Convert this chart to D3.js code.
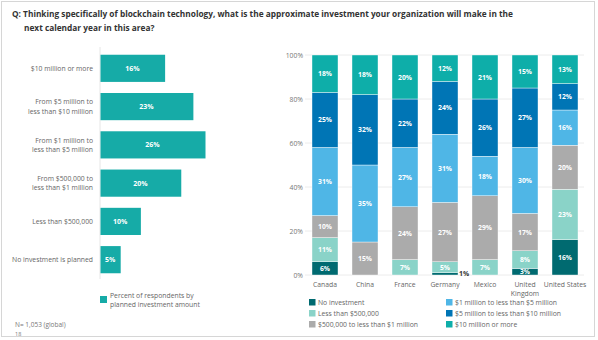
<!DOCTYPE html>
<html><head><meta charset="utf-8">
<script src="https://cdn.jsdelivr.net/npm/d3@7"></script>
<style>
html,body{margin:0;padding:0;background:#fff;}
svg{display:block;font-family:"Open Sans",sans-serif;}
</style></head>
<body><svg id="c" width="598" height="340"></svg>
<script>
const globalCats = ["$10 million or more","From $5 million to|less than $10 million","From $1 million to|less than $5 million","From $500,000 to|less than $1 million","Less than $500,000","No investment is planned"];
const globalVals = [16,23,26,20,10,5];

const countries = ["Canada","China","France","Germany","Mexico","United|Kingdom","United States"];
const seriesNames = ["No investment","Less than $500,000","$500,000 to less than $1 million","$1 million to less than $5 million","$5 million to less than $10 million","$10 million or more"];
const noInvestment = [6,0,0,1,0,3,16];
const lessThan500k = [11,0,7,5,7,8,23];
const from500kTo1m = [10,15,24,27,29,17,20];
const from1mTo5m = [31,35,27,31,18,30,16];
const from5mTo10m = [25,32,22,24,26,27,12];
const tenMPlus = [18,18,20,12,21,15,13];
const yTicks = [0,20,40,60,80,100];
const colors = ["#006a70","#8ad3c8","#ababab","#4fb6e6","#0075b5","#0eaea9"];

const svg = d3.select("#c");
// border
svg.append("rect").attr("x",1.5).attr("y",1.5).attr("width",593).attr("height",335)
  .attr("fill","none").attr("stroke","#d6d6d6");

// title
const t = svg.append("text").attr("font-size",8.3).attr("font-weight",700).attr("fill","#333");
t.append("tspan").attr("x",12).attr("y",17).text("Q: Thinking specifically of blockchain technology, what is the approximate investment your organization will make in the");
t.append("tspan").attr("x",24).attr("y",31).text("next calendar year in this area?");

// left chart
const xL = d3.scaleLinear().domain([0,26]).range([100,205]);
const yL = d3.scaleBand().domain(globalCats).range([49,279]).paddingInner(0.29).paddingOuter(0.15);
svg.append("line").attr("x1",100).attr("x2",100).attr("y1",47).attr("y2",279).attr("stroke","#e6e6e6");
globalCats.forEach((c,i)=>{
  const y = yL(c), h = yL.bandwidth();
  svg.append("rect").attr("x",xL(0)+0.5).attr("y",y).attr("width",xL(globalVals[i])-xL(0)).attr("height",h).attr("fill","#16aba7");
  svg.append("text").attr("x",(xL(0)+xL(globalVals[i]))/2).attr("y",y+h/2+2.5).attr("text-anchor","middle")
    .attr("font-size",7).attr("font-weight",700).attr("fill","#fff").text(globalVals[i]+"%");
  const lines = c.split("|");
  lines.forEach((l,j)=>{
    svg.append("text").attr("x",93).attr("y",y+h/2+2.5+(j-(lines.length-1)/2)*9.5).attr("text-anchor","end")
      .attr("font-size",6.8).attr("fill","#666").text(l);
  });
});
svg.append("rect").attr("x",100).attr("y",296).attr("width",7).attr("height",7).attr("fill","#16aba7");
svg.append("text").attr("x",110).attr("y",298).attr("font-size",6.8).attr("fill","#666").text("Percent of respondents by");
svg.append("text").attr("x",110).attr("y",307).attr("font-size",6.8).attr("fill","#666").text("planned investment amount");
svg.append("text").attr("x",15).attr("y",327).attr("font-size",6.5).attr("fill","#777").text("N= 1,053 (global)");
svg.append("text").attr("x",15).attr("y",336).attr("font-size",5.5).attr("fill","#777").text("18");

// right chart
const x = d3.scaleBand().domain(countries).range([305,585]).paddingInner(0.35).paddingOuter(0.175);
const y = d3.scaleLinear().domain([0,100]).range([275,55]);
yTicks.forEach(v=>{
  svg.append("line").attr("x1",305).attr("x2",584).attr("y1",y(v)).attr("y2",y(v)).attr("stroke","#ececec");
  svg.append("text").attr("x",303).attr("y",y(v)+2.5).attr("text-anchor","end").attr("font-size",6.8).attr("fill","#777").text(v+"%");
});
const seriesVals = [noInvestment,lessThan500k,from500kTo1m,from1mTo5m,from5mTo10m,tenMPlus];
const rows = countries.map((c,i)=>{const o={country:c}; seriesNames.forEach((s,k)=>o[s]=seriesVals[k][i]); return o;});
const stack = d3.stack().keys(seriesNames)(rows);
stack.forEach((layer,k)=>{
  layer.forEach((d,i)=>{
    const v = d[1]-d[0];
    if(v<=0) return;
    const bot = y(d[0]);
    const yy = y(Math.min(d[1],100));
    svg.append("rect").attr("x",x(countries[i])).attr("y",yy).attr("width",x.bandwidth())
      .attr("height",Math.max(0,bot-yy)).attr("fill",colors[k]).attr("stroke","#fff").attr("stroke-width",0.4);
    if(v>=3){
      svg.append("text").attr("x",x(countries[i])+x.bandwidth()/2).attr("y",(yy+bot)/2+2.5).attr("text-anchor","middle")
        .attr("font-size",6.8).attr("font-weight",700).attr("fill","#fff").text(v+"%");
    } else {
      svg.append("text").attr("x",x(countries[i])+x.bandwidth()+1).attr("y",bot+1).attr("text-anchor","start")
        .attr("font-size",6.8).attr("font-weight",700).attr("fill","#333").text(v+"%");
    }
  });
});
countries.forEach(c=>{
  const lines=c.split("|");
  lines.forEach((l,j)=>{
    svg.append("text").attr("x",x(c)+x.bandwidth()/2).attr("y",287+j*9).attr("text-anchor","middle")
      .attr("font-size",6.8).attr("fill","#666").text(l);
  });
});
// legend
seriesNames.forEach((s,k)=>{
  const col = Math.floor(k/3), row = k%3;
  const lx = col===0?309:446, ly = 299+row*11;
  svg.append("rect").attr("x",lx).attr("y",ly).attr("width",6.5).attr("height",6.5).attr("fill",colors[k]);
  svg.append("text").attr("x",lx+9).attr("y",ly+6).attr("font-size",6.8).attr("fill","#666").text(s);
});
</script></body></html>
